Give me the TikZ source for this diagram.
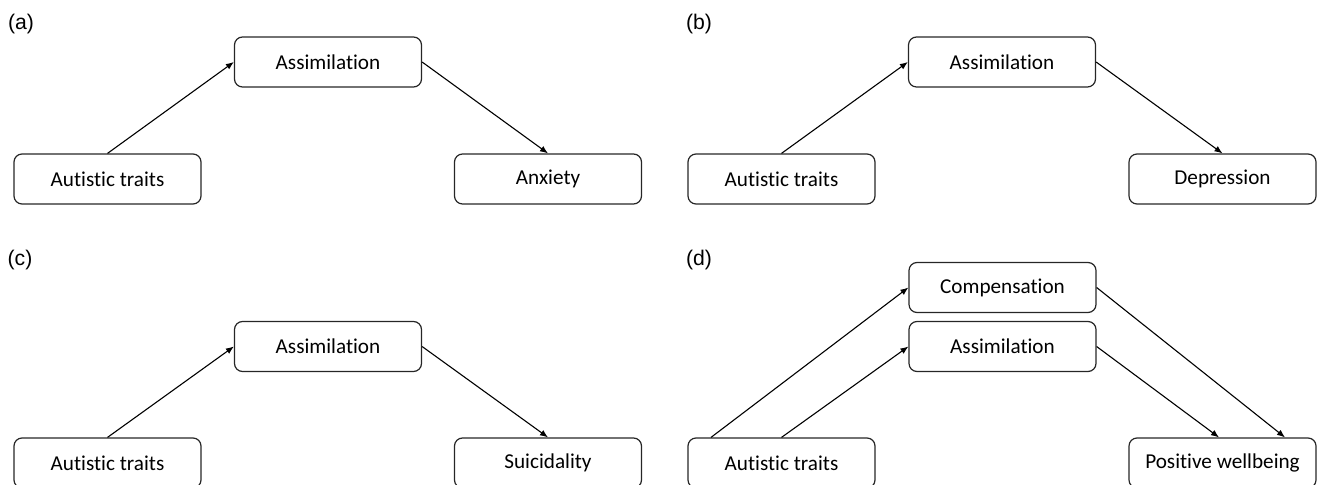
\documentclass[tikz,border=0pt]{standalone}
\usepackage{fontspec}
\setmainfont[Ligatures=NoCommon]{Carlito}
\newfontfamily\labelfont{Liberation Sans}
\usetikzlibrary{arrows.meta,calc}
\begin{document}
\begin{tikzpicture}[x=0.5pt,y=-0.5pt,
  boxnode/.style={draw=black!85, line width=0.6pt, rounded corners=4pt,
    minimum width=93.5pt, minimum height=25pt, inner sep=0pt,
    font=\fontsize{10.6}{12}\selectfont},
  panellabel/.style={font=\labelfont\fontsize{10.6}{12}\selectfont, inner sep=0pt},
  conn/.style={line width=0.55pt, -{Latex[length=4pt,width=3.2pt]}}]
\useasboundingbox (0,0) rectangle (1317,485);
% labels
\node[panellabel] (la) at (21,24) {(a)};
\node[panellabel] (lb) at (699,24) {(b)};
\node[panellabel] (lc) at (20,260) {(c)};
\node[panellabel] (ld) at (699,260) {(d)};
% panel a
\node[boxnode] (asa) at (328,62) {Assimilation};
\node[boxnode] (aua) at (107.5,179) {Autistic traits};
\node[boxnode] (anx) at (548,179) {Anxiety};
\draw[conn] (aua.north) -- (asa.west);
\draw[conn] (asa.east) -- (anx.north);
% panel b
\node[boxnode] (asb) at (1002,62) {Assimilation};
\node[boxnode] (aub) at (781.5,179) {Autistic traits};
\node[boxnode] (dep) at (1222.5,179) {Depression};
\draw[conn] (aub.north) -- (asb.west);
\draw[conn] (asb.east) -- (dep.north);
% panel c
\node[boxnode] (asc) at (328,346.5) {Assimilation};
\node[boxnode] (auc) at (107.5,463) {Autistic traits};
\node[boxnode] (sui) at (548,463) {Suicidality};
\draw[conn] (auc.north) -- (asc.west);
\draw[conn] (asc.east) -- (sui.north);
% panel d
\node[boxnode] (comp) at (1002.5,287.5) {Compensation};
\node[boxnode] (asd) at (1002.5,346.5) {Assimilation};
\node[boxnode] (aud) at (781.5,463) {Autistic traits};
\node[boxnode] (pw) at (1222.5,463) {Positive wellbeing};
\draw[conn] ([xshift=-35.25pt]aud.north) -- (comp.west);
\draw[conn] (aud.north) -- (asd.west);
\draw[conn] (comp.east) -- ([xshift=31.25pt]pw.north);
\draw[conn] (asd.east) -- ([xshift=-1.75pt]pw.north);
\end{tikzpicture}
\end{document}
